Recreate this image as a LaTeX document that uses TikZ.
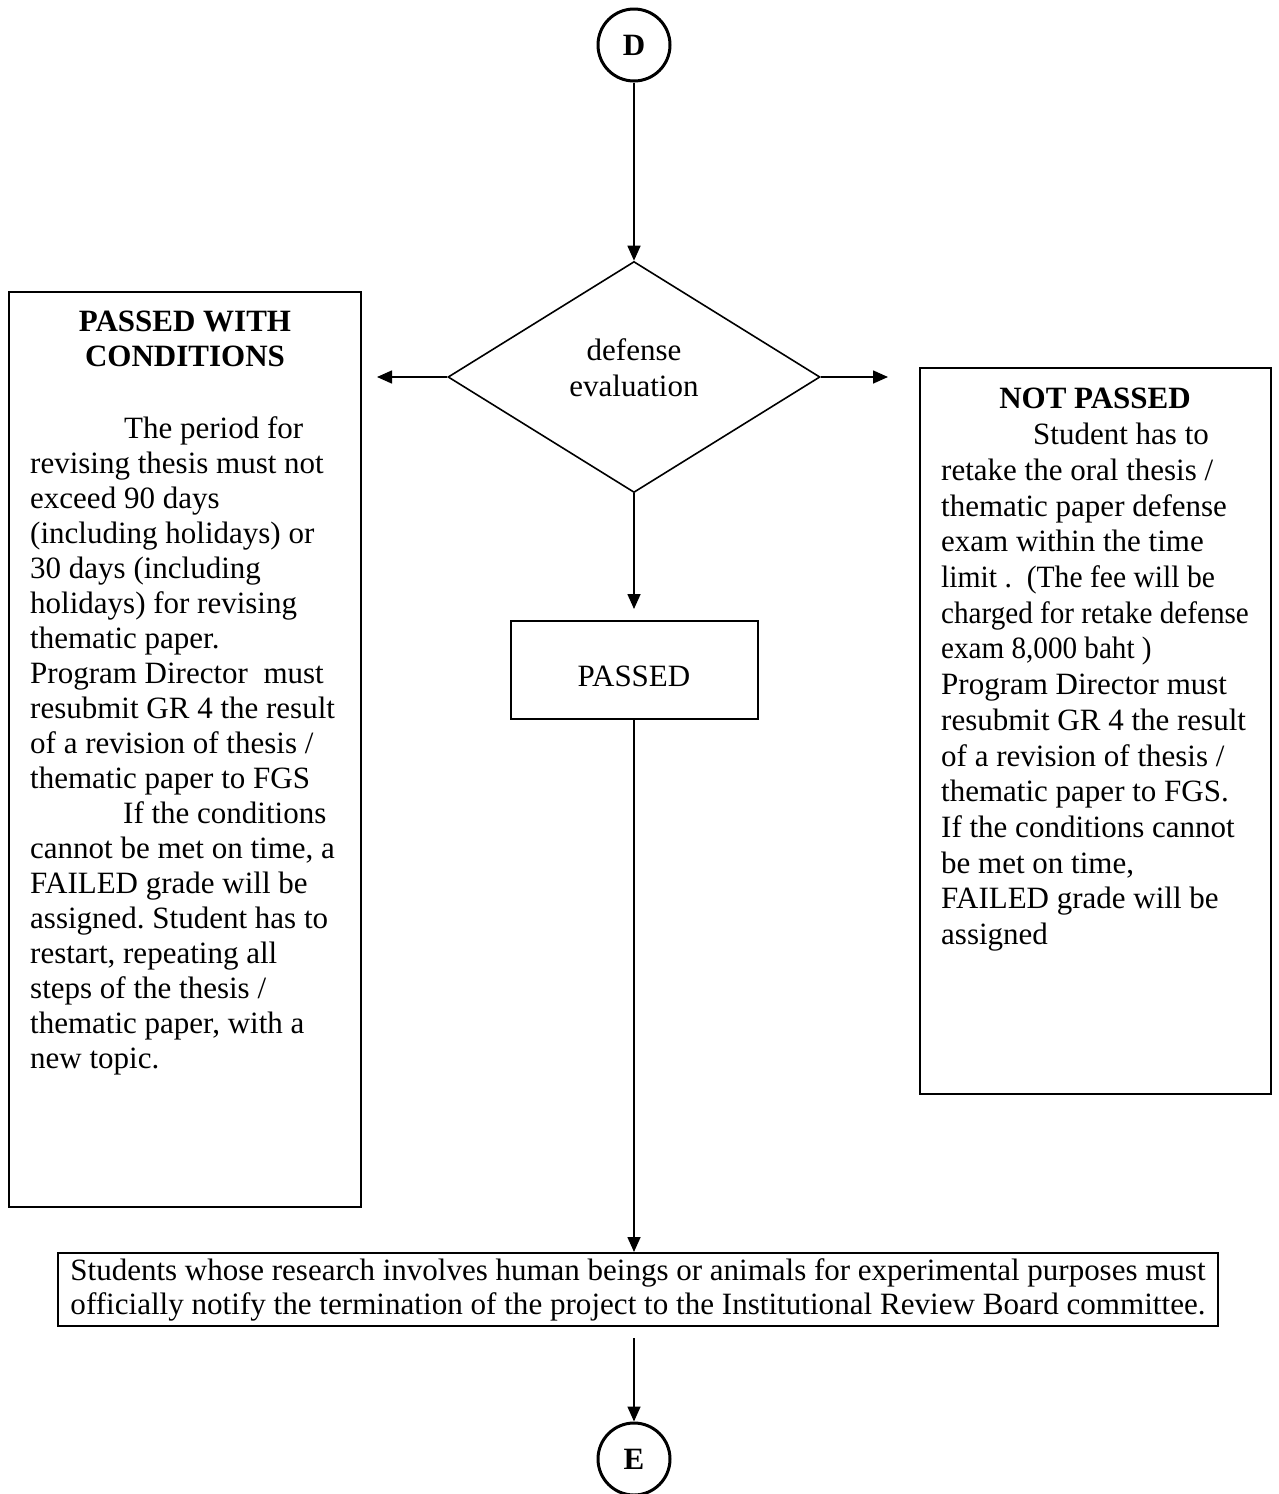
\documentclass[tikz,border=0pt]{standalone}
\usepackage{fontspec}
\usepackage{graphicx}
\setmainfont{Liberation Serif}
\frenchspacing
\usetikzlibrary{shapes.geometric,arrows.meta}
\begin{document}
\begin{tikzpicture}[x=1pt,y=-1pt,
  box/.style={draw,line width=2pt,inner sep=0pt},
  conn/.style={draw,circle,line width=3pt,minimum size=72pt,inner sep=0pt,font=\fontsize{31}{36}\selectfont\bfseries},
  arr/.style={line width=1.6pt,-{Triangle[length=15pt,width=13pt]}},
  txt/.style={inner sep=0pt,font=\fontsize{31}{35}\selectfont},
  ttl/.style={inner sep=0pt,align=center,font=\fontsize{31}{35}\selectfont\bfseries},
]
\useasboundingbox (0,0) rectangle (1279,1494);

\node[conn] (D) at (634,45) {D};
\node[draw,diamond,line width=1.6pt,minimum width=372pt,minimum height=231pt,inner sep=0pt,
      align=center,font=\fontsize{31}{36}\selectfont] (dia) at (634,377)
  {defense\\evaluation\rule[-19pt]{0pt}{0pt}};
\node[box,minimum width=247pt,minimum height=98pt,font=\fontsize{31}{35}\selectfont] (pass) at (634,670)
  {\rule{0pt}{32.5pt}PASSED};

% left box
\node[box,minimum width=352pt,minimum height=915pt] (lbox) at (185,749.5) {};
\node[ttl] (ltitle) at (185,339) {PASSED WITH\\CONDITIONS};
\node[txt,align=left,anchor=north west] (lbody) at (30,416) {%
\hspace*{94pt}The period for\\
revising thesis must not\\
exceed 90 days\\
(including holidays) or\\
30 days (including\\
holidays) for revising\\
thematic paper.\\
Program Director~ must\\
resubmit GR 4 the result\\
of a revision of thesis /\\
thematic paper to FGS\\
\hspace*{93pt}If the conditions\\
cannot be met on time, a\\
FAILED grade will be\\
assigned. Student has to\\
restart, repeating all\\
steps of the thesis /\\
thematic paper, with a\\
new topic.};

% right box
\node[box,minimum width=351pt,minimum height=726pt] (rbox) at (1095.5,731) {};
\node[ttl] (rtitle) at (1095,398) {NOT PASSED};
\node[txt,align=left,anchor=north west,font=\fontsize{31}{35.7}\selectfont] (rbody) at (941,423) {%
\hspace*{92pt}Student has to\\
retake the oral thesis /\\
thematic paper defense\\
exam within the time\\
\scalebox{0.955}[1]{limit .~ (The fee will be}\\
\scalebox{0.94}[1]{charged for retake defense}\\
\scalebox{0.94}[1]{exam 8,000 baht )}\\
Program Director must\\
resubmit GR 4 the result\\
of a revision of thesis /\\
thematic paper to FGS.\\
If the conditions cannot\\
be met on time,\\
FAILED grade will be\\
assigned};

% bottom box
\node[box,minimum width=1160pt,minimum height=73pt,align=left,font=\fontsize{31}{34}\selectfont] (irb) at (638,1289.5) {%
\resizebox{1135pt}{\height}{Students whose research involves human beings or animals for experimental purposes must}\\
\resizebox{1135pt}{\height}{officially notify the termination of the project to the Institutional Review Board committee.}};

\node[conn] (E) at (634,1459) {E};

% connectors
\draw[arr] (D) -- (dia.north);
\draw[arr,shorten >=15pt] (dia.west) -- (dia.west -| lbox.east);
\draw[arr,shorten >=31pt] (dia.east) -- (dia.east -| rbox.west);
\draw[arr,shorten >=11pt] (dia.south) -- (pass.north);
\draw[arr] (pass.south) -- (pass.south |- irb.north);
\draw[arr,shorten <=11pt] (irb.south -| E) -- (E);
\end{tikzpicture}
\end{document}
